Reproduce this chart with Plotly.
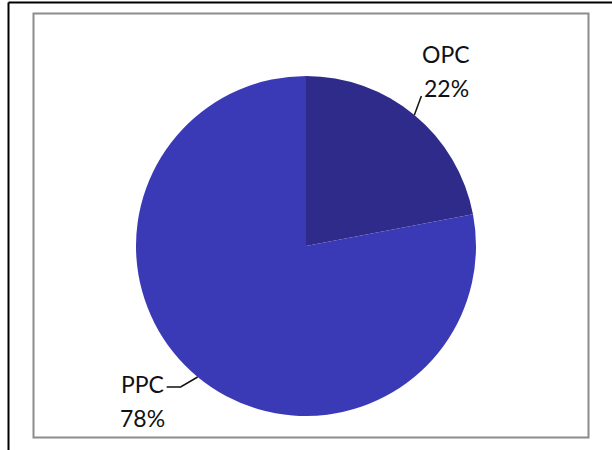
import math
import plotly.graph_objects as go

labels = ["OPC", "PPC"]
values = [22, 78]
colors = ["#2E2B8A", "#3B3AB6"]

W, H = 612, 450
cx, cy, R = 306, 246, 170  # pie centre / radius in px

fig = go.Figure(go.Pie(
    labels=labels, values=values, sort=False, direction="clockwise", rotation=0,
    marker=dict(colors=colors, line=dict(width=0)),
    textinfo="none", hoverinfo="label+percent", showlegend=False,
    domain=dict(x=[(cx - R) / W, (cx + R) / W], y=[1 - (cy + R) / H, 1 - (cy - R) / H]),
))

def px(x):
    return x / W

def py(y):
    return 1 - y / H

total = sum(values)
shapes = []
annotations = []
font = dict(family="Lato, Open Sans, sans-serif", size=23, color="#111111")
cum = 0
# leader-line offsets (px) and label-centre offsets from the slice edge (style)
leader = {
    "OPC": [(7, -19)],
    "PPC": [(-17, 10), (-31, 10)],
}
label_off = {"OPC": (32, -44), "PPC": (-55, 24)}
for lab, v in zip(labels, values):
    mid = (cum + v / 2) / total * 2 * math.pi
    cum += v
    ex, ey = cx + R * math.sin(mid), cy - R * math.cos(mid)
    pts = [(ex, ey)] + [(ex + dx, ey + dy) for dx, dy in leader[lab]]
    path = "M " + " L ".join(f"{px(a):.5f} {py(b):.5f}" for a, b in pts)
    shapes.append(dict(type="path", xref="paper", yref="paper", path=path,
                       line=dict(color="#111111", width=1.5)))
    lx, ly = ex + label_off[lab][0], ey + label_off[lab][1]
    pct = f"{round(v / total * 100)}%"
    annotations.append(dict(x=px(lx), y=py(ly - 17), xref="paper", yref="paper",
                            text=lab, showarrow=False, font=font, xanchor="center", yanchor="middle"))
    annotations.append(dict(x=px(lx), y=py(ly + 17), xref="paper", yref="paper",
                            text=pct, showarrow=False, font=font, xanchor="center", yanchor="middle"))

# outer black frame (left and top) and inner grey frame
shapes.append(dict(type="line", xref="paper", yref="paper", x0=px(8.5), x1=px(8.5), y0=0, y1=py(2.5),
                   line=dict(color="#000000", width=2)))
shapes.append(dict(type="line", xref="paper", yref="paper", x0=px(8.5), x1=1, y0=py(2.5), y1=py(2.5),
                   line=dict(color="#000000", width=2)))
shapes.append(dict(type="rect", xref="paper", yref="paper", x0=px(33.5), x1=px(588.5), y0=py(437.5), y1=py(13.5),
                   line=dict(color="#8C8C8C", width=2)))

fig.update_layout(width=W, height=H, margin=dict(l=0, r=0, t=0, b=0),
                  paper_bgcolor="white", plot_bgcolor="white",
                  shapes=shapes, annotations=annotations)
fig.write_html("out.html")
